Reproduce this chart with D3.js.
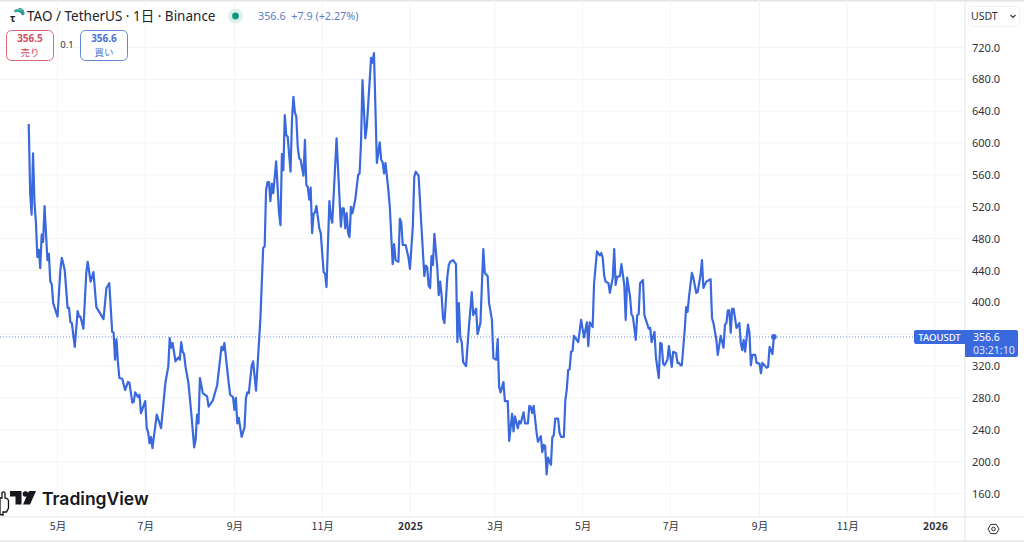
<!DOCTYPE html>
<html><head><meta charset="utf-8">
<script src="https://cdn.jsdelivr.net/npm/d3@7"></script>
<style>
html,body{margin:0;padding:0;background:#fff;overflow:hidden}
svg{display:block}
text{font-family:"Noto Sans","Noto Sans CJK JP",sans-serif}
</style></head><body><svg id="c" width="1024" height="542"></svg>
<script>
// days since 2024-05-01 (UTC)
const days = [-20,-19,-18,-17,-16,-15,-14,-13,-12,-11,-10,-9,-7,-6,-5,-4,-3,0,2,3,5,7,8,9,10,12,14,15,16,18,20,21,23,25,27,29,32,34,36,38,39,40,41,42,43,45,47,49,50,52,53,54,56,57,58,61,62,63,64,65,66,69,72,75,77,78,79,80,82,84,85,86,87,88,89,91,93,95,96,97,98,99,101,104,105,108,111,114,115,116,119,120,122,123,124,125,126,128,130,131,132,133,135,136,138,141,143,144,145,146,147,148,149,150,152,154,155,156,157,158,159,160,162,163,164,165,166,167,168,169,171,172,173,174,175,176,177,178,179,180,182,183,185,186,187,189,190,191,194,197,198,199,200,201,202,203,204,205,207,209,210,211,212,214,215,218,219,220,222,224,225,226,227,228,230,231,233,234,235,237,238,239,240,242,244,245,247,248,249,251,253,255,256,257,258,259,260,261,262,264,265,266,267,268,269,271,272,273,275,277,278,279,280,281,282,284,286,288,289,291,292,294,296,297,299,300,302,303,305,306,307,308,310,311,313,314,316,317,318,320,321,322,324,325,327,328,329,330,331,333,334,336,337,338,339,340,341,343,344,345,346,348,349,350,352,353,354,355,356,357,358,359,362,364,366,368,369,370,372,373,375,377,378,379,380,381,383,384,386,387,388,389,391,392,394,395,396,398,399,400,402,403,404,405,407,408,411,412,413,415,416,418,419,420,421,422,424,425,427,428,430,431,432,433,434,436,437,438,439,441,442,444,445,447,448,449,451,454,455,456,458,459,461,463,464,465,466,467,468,469,470,472,474,475,476,477,478,480,481,482,483,485,486,488,489,490,493,494,495,497,498];
const prices = [624,537,510,587,525,500,457,466,443,485,476,521,453,461,426,423,399,382,441,456,441,393,393,375,374,344,389,382,382,367,437,451,426,438,394,388,379,418,424,363,362,328,354,325,305,304,290,300,299,274,275,287,281,284,261,276,242,237,223,231,217,259,242,299,319,355,343,349,326,331,328,350,338,335,319,299,261,218,227,259,248,305,286,282,269,277,296,344,340,349,299,284,281,265,280,248,255,231,243,280,287,286,321,326,289,378,469,470,541,551,551,527,549,537,577,512,497,586,566,635,610,608,564,629,658,639,633,595,581,579,559,604,547,545,529,544,487,511,513,521,493,487,438,436,419,527,507,500,606,495,518,518,493,512,487,482,520,512,529,560,562,600,679,606,620,707,701,713,575,601,579,576,562,575,541,520,448,473,453,451,505,500,472,472,456,442,495,557,564,559,495,433,446,444,421,418,458,447,486,444,409,426,409,380,374,432,447,451,453,448,350,399,356,350,325,320,369,413,384,392,360,374,467,437,433,399,378,330,328,354,294,287,300,276,276,226,260,238,257,242,251,248,262,248,248,270,269,261,270,237,225,232,212,221,220,184,205,196,231,233,254,254,236,231,231,277,290,315,316,338,339,358,350,378,356,375,345,375,369,424,464,459,462,456,434,426,424,412,431,467,422,432,433,448,422,378,431,407,385,382,353,384,385,424,428,384,367,368,350,363,331,305,349,348,323,321,328,345,319,338,336,324,324,321,321,365,394,388,407,437,431,412,413,434,453,418,426,429,380,374,353,334,358,343,372,374,390,390,362,392,392,368,374,349,340,353,338,372,362,321,334,334,324,323,311,324,318,319,344,335,358,356.6];
const monthTicks = ["2024-05-01","2024-07-01","2024-09-01","2024-11-01","2025-01-01","2025-03-01","2025-05-01","2025-07-01","2025-09-01","2025-11-01","2026-01-01"];
const monthLabels = ["5月","7月","9月","11月","2025","3月","5月","7月","9月","11月","2026"];
const priceTicks = [160,200,240,280,320,400,440,480,520,560,600,640,680,720];
const gridPrices = [160,200,240,280,320,360,400,440,480,520,560,600,640,680,720];
const lastPrice = 356.6;

const BLUE = "#3a69de", RED = "#d2505f", INK = "#2f333c", GRID = "#f3f4f6";
const W = 1024, H = 542, R = 965, B = 517;
const svg = d3.select("#c");
const base = Date.UTC(2024,4,1);
const toDate = d => new Date(base + d*864e5);
const parse = d3.utcParse("%Y-%m-%d");
const x = d3.scaleUtc().domain([parse("2024-05-01"),parse("2026-01-01")]).range([57.5,935]);
const y = d3.scaleLinear().domain([160,720]).range([493.5,47.5]);

svg.append("rect").attr("width",W).attr("height",H).attr("fill","#fff");
svg.append("rect").attr("width",W).attr("height",1.5).attr("fill","#e4e4e4");
svg.append("rect").attr("y",540).attr("width",W).attr("height",2).attr("fill","#ececec");

// grid
svg.append("g").selectAll("line").data(gridPrices).join("line")
  .attr("x1",0).attr("x2",R).attr("y1",d=>y(d)).attr("y2",d=>y(d)).attr("stroke",GRID);
svg.append("g").selectAll("line").data(monthTicks).join("line")
  .attr("x1",d=>x(parse(d))).attr("x2",d=>x(parse(d))).attr("y1",0).attr("y2",B).attr("stroke",GRID);

// axes
const yAxis = d3.axisRight(y).tickValues(priceTicks).tickFormat(d3.format(".1f")).tickSize(0).tickPadding(7);
const ga = svg.append("g").attr("transform",`translate(${R},0)`).call(yAxis);
ga.select(".domain").attr("d",`M0,0V${H}`).attr("stroke","#e3e4e7");
ga.selectAll("text").attr("font-size",11).attr("fill",INK).style("font-family",'"Noto Sans",sans-serif');
const xAxis = d3.axisBottom(x).tickValues(monthTicks.map(parse)).tickFormat((d,i)=>monthLabels[i]).tickSize(0).tickPadding(6);
const gb = svg.append("g").attr("transform",`translate(0,${B})`).call(xAxis);
gb.select(".domain").attr("d",`M0,0H${W}`).attr("stroke","#e3e4e7");
gb.selectAll("text").attr("font-size",10.5).attr("fill",INK)
  .attr("font-weight",(d,i)=>monthLabels[i].length===4?700:400)
  .style("font-family",'"Noto Sans CJK JP","Noto Sans",sans-serif');

// last-price dotted line
svg.append("line").attr("x1",0).attr("x2",914).attr("y1",y(lastPrice)).attr("y2",y(lastPrice))
  .attr("stroke",BLUE).attr("stroke-width",1).attr("stroke-dasharray","1 2").attr("opacity",.75);

// price line
const line = d3.line().x((d,i)=>x(toDate(days[i]))).y(d=>y(d)).curve(d3.curveLinear);
svg.append("path").attr("d",line(prices)).attr("fill","none").attr("stroke",BLUE)
  .attr("stroke-width",2.2).attr("stroke-linejoin","round");
svg.append("circle").attr("cx",x(toDate(days[days.length-1]))).attr("cy",y(lastPrice)).attr("r",2.8).attr("fill",BLUE);

// price labels
const ly = y(lastPrice);
svg.append("path").attr("d",`M${R},${ly-7}H916a2,2 0 0 0 -2,2V${ly+5}a2,2 0 0 0 2,2H${R}Z`).attr("fill",BLUE);
svg.append("text").attr("x",939.5).attr("y",ly+3.6).attr("text-anchor","middle").attr("font-size",9.5).attr("fill","#fff").attr("font-weight",500).text("TAOUSDT");
svg.append("path").attr("d",`M${R},${ly-7}H1016a2,2 0 0 1 2,2V${ly+18}a2,2 0 0 1 -2,2H${R}Z`).attr("fill",BLUE);
svg.append("text").attr("x",973).attr("y",ly+4).attr("font-size",10.5).attr("fill","#fff").text("356.6");
svg.append("text").attr("x",973).attr("y",ly+17).attr("font-size",10.5).attr("fill","#dfe7fb").text("03:21:10");

// header
const logo = svg.append("g");
logo.append("text").attr("x",10).attr("y",22).attr("font-size",10).attr("font-weight",700).attr("fill","#222").text("τ");
logo.append("path").attr("d","M14.5,11.5A5.5,5.5 0 0 1 23,15").attr("fill","none").attr("stroke","#2b9e95").attr("stroke-width",2.6);
logo.append("path").attr("d","M18.5,9A4,4 0 0 1 23,15").attr("fill","none").attr("stroke","#2b9e95").attr("stroke-width",1.6);
svg.append("text").attr("x",27).attr("y",21).attr("font-size",13.5).attr("fill","#20242c")
  .style("font-family",'"Noto Sans","Noto Sans CJK JP",sans-serif').text("TAO / TetherUS · 1日 · Binance");
svg.append("circle").attr("cx",235.5).attr("cy",16).attr("r",7.5).attr("fill","#dcf1ec");
svg.append("circle").attr("cx",235.5).attr("cy",16).attr("r",3.4).attr("fill","#12977f");
svg.append("text").attr("x",258).attr("y",20).attr("font-size",10.8).attr("fill","#5d80c8").attr("xml:space","preserve").text("356.6  +7.9 (+2.27%)");

function box(x0,col,p,lab){
  svg.append("rect").attr("x",x0+.5).attr("y",30.5).attr("width",47).attr("height",30).attr("rx",5).attr("fill","#fff").attr("stroke",col).attr("opacity",.85);
  svg.append("text").attr("x",x0+24).attr("y",42).attr("text-anchor","middle").attr("font-size",10).attr("font-weight",700).attr("fill",col).text(p);
  svg.append("text").attr("x",x0+24).attr("y",56).attr("text-anchor","middle").attr("font-size",9.5).attr("fill",col).style("font-family",'"Noto Sans CJK JP",sans-serif').text(lab);
}
box(6,RED,"356.5","売り");
box(80,"#4a72d4","356.6","買い");
svg.append("text").attr("x",67).attr("y",48).attr("text-anchor","middle").attr("font-size",9.5).attr("fill",INK).text("0.1");

// USDT button
svg.append("rect").attr("x",968.5).attr("y",6.5).attr("width",51).attr("height",20).attr("rx",3).attr("fill","#fff").attr("stroke","#f0f1f3");
svg.append("text").attr("x",971).attr("y",20).attr("font-size",10.5).attr("fill",INK).text("USDT");
svg.append("path").attr("d","M1010.5,15l2.5,2.5l2.5,-2.5").attr("fill","none").attr("stroke",INK).attr("stroke-width",1.1);

// settings icon
svg.append("path").attr("d","M988,529l2.7,-4.6h5.6l2.7,4.6l-2.7,4.6h-5.6Z").attr("fill","none").attr("stroke","#333").attr("stroke-width",1);
svg.append("circle").attr("cx",993.5).attr("cy",529).attr("r",1.8).attr("fill","none").attr("stroke","#333");

// TradingView watermark
const tv = svg.append("g").attr("fill","#16181d");
tv.append("path").attr("d","M10,491H21.5V504.5H15.5V496.5H10Z");
tv.append("circle").attr("cx",25.5).attr("cy",494).attr("r",2.8);
tv.append("path").attr("d","M29,491H36L30,504.5H23Z");
tv.append("text").attr("x",42).attr("y",504.5).attr("font-size",17.5).attr("font-weight",600)
  .style("font-family",'Inter,"Noto Sans",sans-serif').text("TradingView");

// mouse pointer
svg.append("path").attr("d","M2,492.5c1.5,-1 3,-.5 3,1V498l2,.5c1,.5 1.5,1.5 1.5,3V508l-2,4H3V515l-3,-.5V498H2Z")
  .attr("fill","#fff").attr("stroke","#111").attr("stroke-width",1.3);
</script></body></html>
